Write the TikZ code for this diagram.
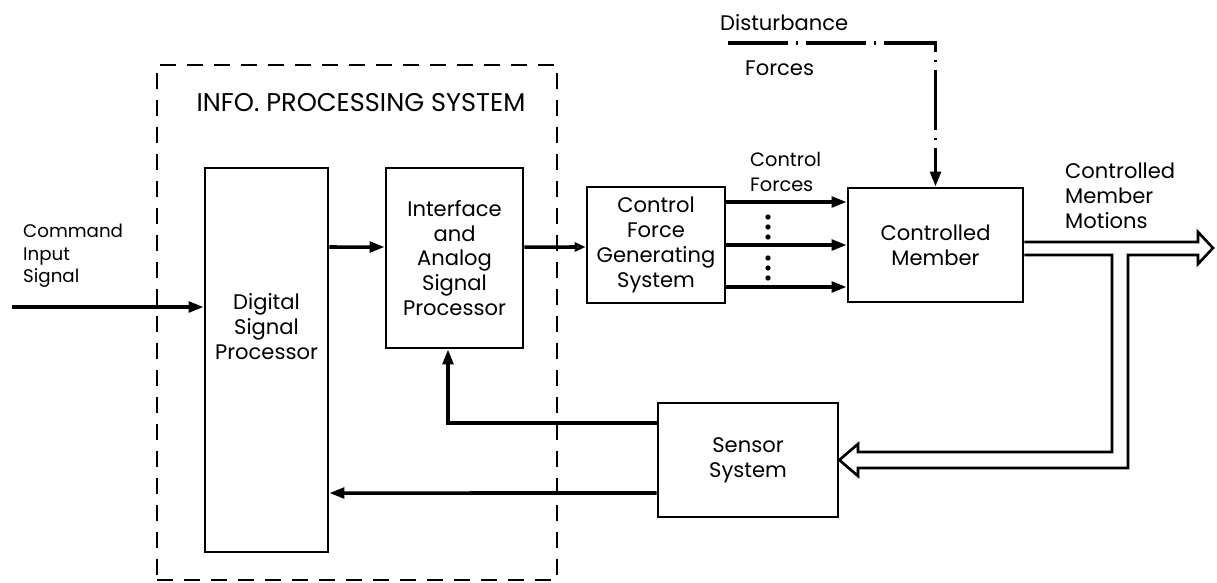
\documentclass[tikz,border=0pt]{standalone}
\usepackage{fontspec}
\setmainfont{Poppins}
\usepackage{tikz}
\usetikzlibrary{arrows.meta,calc}

\tikzset{
  bloc/.style={draw, line width=1.5pt, align=center, inner sep=0pt},
  fleche/.style={line width=2pt, -{Triangle[length=3mm,width=2.1mm]}},
  creux/.style={line width=1.5pt, line join=miter},
  pointille/.style={line width=1.4pt, dash pattern=on 0.32cm off 0.22cm},
  perturb/.style={line width=2pt, dash pattern=on 34pt off 4.5pt on 1.5pt off 4.5pt, dash phase=0pt,
    -{Triangle[length=3mm,width=2.1mm]}},
}

\begin{document}
\begin{tikzpicture}[x=0.02cm, y=-0.02cm, font=\fontsize{12}{14.2}\selectfont]
        \useasboundingbox (0,0) rectangle (1217,582);

        % Cadre du systeme de traitement
        \node[draw, pointille, minimum width=8cm, minimum height=10.3cm] (ips) at (357,322.5) {};
        \node[font=\fontsize{14.6}{16}\selectfont] (titre) at (361,103) {INFO. PROCESSING SYSTEM};

        % Blocs
        \node[bloc, minimum width=2.46cm, minimum height=7.68cm] (dsp) at (266.5,360) {};
        \node[align=center] (dsptxt) at (266.5,327) {Digital\\Signal\\Processor};
        \node[bloc, minimum width=2.74cm, minimum height=3.6cm] (ifc) at (454.5,258)
            {Interface\\and\\Analog\\Signal\\Processor};
        \node[bloc, minimum width=2.76cm, minimum height=2.32cm] (cfgs) at (656,245)
            {Control\\Force\\Generating\\System};
        \node[bloc, minimum width=3.5cm, minimum height=2.28cm] (cm) at (935.5,245)
            {Controlled\\Member};
        \node[bloc, minimum width=3.6cm, minimum height=2.28cm] (sen) at (748,460)
            {Sensor\\System};

        % Entree
        \coordinate (cmd) at (12,307);
        \node[anchor=west, align=left, font=\fontsize{10.4}{12.8}\selectfont] (cmdtxt) at (17,256)
            {Command\\Input\\Signal};
        \draw[fleche] (cmd) -- (cmd -| dsp.west);

        % Chaine directe
        \draw[fleche] (dsp.east |- 0,247) -- ([yshift=0.22cm]ifc.west);
        \draw[line width=2pt, -{Triangle[open,length=2.2mm,width=1.8mm]}]
            ([yshift=0.22cm]ifc.east) -- (cfgs.west |- 0,247);

        % Forces de commande
        \node[anchor=west, align=left, font=\fontsize{11}{14.2}\selectfont] (cflbl) at (744,172)
            {Control\\Forces};
        \foreach \dy in {0.86,0,-0.84}
            \draw[fleche] ([yshift=\dy cm]cfgs.east) -- ([yshift=\dy cm]cm.west);
        \foreach \y in {217,227,237,258,268,278}
            \fill (768,\y) circle (1.5pt);

        % Perturbations
        \coordinate (dstart) at (728,43);
        \coordinate (dcoin) at (dstart -| cm.north);
        \draw[perturb] (dstart) -- (dcoin) -- (cm.north);
        \node[anchor=west] (dist) at (714,23) {Disturbance};
        \node[anchor=west] (distf) at (739,68) {Forces};

        % Sortie et retour (fleche creuse)
        \node[anchor=west, align=left] (motlbl) at (1059,196) {Controlled\\Member\\Motions};
        \draw[creux] (cm.east |- 0,242) -- (1198,242) -- (1198,232) -- (1213,248)
            -- (1198,264) -- (1198,255) -- (1128,255) -- (1128,468) -- (858,468)
            -- (858,476) -- (sen.east) -- (858,444) -- (858,452) -- (1112,452)
            -- (1112,255) -- (cm.east |- 0,255);

        % Retours du capteur
        \draw[fleche] ([yshift=0.74cm]sen.west) -| ([xshift=-0.13cm]ifc.south);
        \draw[fleche] ([yshift=-0.66cm]sen.west) -- (dsp.east |- 0,493);
\end{tikzpicture}
\end{document}
